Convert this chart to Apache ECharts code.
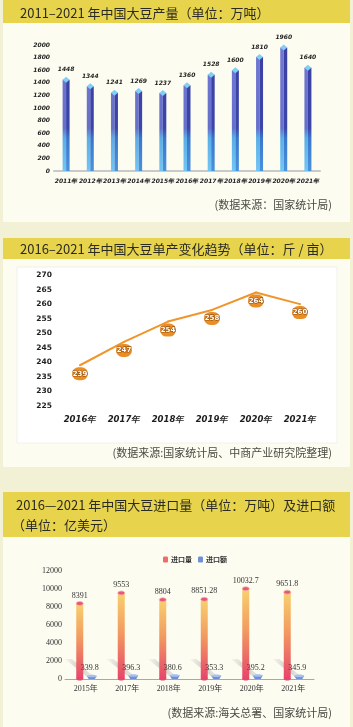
<!DOCTYPE html>
<html><head><meta charset="utf-8">
<script src="https://cdn.jsdelivr.net/npm/echarts@6/dist/echarts.min.js"></script>
<style>html,body{margin:0;padding:0;background:#f2f1d6}#c{width:353px;height:727px}</style>
</head><body><div id="c"></div>
<script>
// ---- data ----
const prodYears = ['2011年','2012年','2013年','2014年','2015年','2016年','2017年','2018年','2019年','2020年','2021年'];
const prodValues = [1448,1344,1241,1269,1237,1360,1528,1600,1810,1960,1640];
const yieldYears = ['2016年','2017年','2018年','2019年','2020年','2021年'];
const yieldValues = [239,247,254,258,264,260];
const importYears = ['2015年','2017年','2018年','2019年','2020年','2021年'];
const importVolume = [8391,9553,8804,8851.28,10032.7,9651.8];
const importAmount = [339.8,396.3,380.6,353.3,395.2,345.9];
const legendNames = ['进口量','进口额'];

const CJK = '"Noto Sans CJK SC", "Noto Sans", sans-serif';
const SERIF = '"Liberation Serif", "DejaVu Serif", "Noto Sans CJK SC", serif';
const YELLOW = '#e7d44c';
const PANEL = '#fcfcf1';
const plain = v => String(v);

function txt(x, y, text, font, fill, align) {
  return {type:'text', x:x, y:y, silent:true, z:10,
    style:{text:text, font:font, fill:fill||'#2b2b22', textAlign:align||'left', textVerticalAlign:'middle'}};
}
function rect(x, y, w, h, fill, stroke) {
  return {type:'rect', silent:true, z:-10, shape:{x:x,y:y,width:w,height:h},
    style:{fill:fill, stroke:stroke||null, lineWidth:stroke?1:0}};
}

// chart 1 prism bars
function renderProd(params, api) {
  const top = api.coord([api.value(0), api.value(1)]);
  const base = api.coord([api.value(0), 0]);
  const axTop = api.coord([0, 2000])[1];
  const w = 7, h = 3, cx = top[0], yt = top[1], yb = base[1];
  const gl = {type:'linear', global:true, x:0, y:axTop, x2:0, y2:yb, colorStops:[
    {offset:0,color:'#7178d2'},{offset:0.66,color:'#6670cc'},{offset:0.74,color:'#5aaee8'},{offset:1,color:'#72c6f4'}]};
  const gr = {type:'linear', global:true, x:0, y:axTop, x2:0, y2:yb, colorStops:[
    {offset:0,color:'#3b40a2'},{offset:0.66,color:'#3c46a8'},{offset:0.74,color:'#3a76cc'},{offset:1,color:'#4a92dc'}]};
  return {type:'group', children:[
    {type:'rect', shape:{x:cx-w/2, y:yt, width:w/2, height:yb-yt}, style:{fill:gl}},
    {type:'rect', shape:{x:cx, y:yt, width:w/2, height:yb-yt}, style:{fill:gr}},
    {type:'polygon', shape:{points:[[cx-w/2,yt],[cx,yt-h],[cx+w/2,yt],[cx,yt+h]]}, style:{fill:'#80cff5'}},
    {type:'text', style:{text:String(api.value(1)), x:cx, y:yt-7, textAlign:'center', textVerticalAlign:'bottom',
      font:'italic bold 6px "DejaVu Sans", sans-serif', fill:'#1e1e1e'}}
  ]};
}

// chart 3 cylinders
function renderVol(params, api) {
  const top = api.coord([api.value(0), api.value(1)]);
  const base = api.coord([api.value(0), 0]);
  const c = top[0];
  const w = 7, cx = c - 6, yt = top[1], yb = base[1];
  const g = {type:'linear', x:0, y:0, x2:0, y2:1, colorStops:[
    {offset:0,color:'#f8d06e'},{offset:0.45,color:'#f29c60'},{offset:1,color:'#e7456c'}]};
  const sh = {type:'linear', x:0, y:0, x2:1, y2:0, colorStops:[
    {offset:0,color:'rgba(160,160,160,0.05)'},{offset:0.5,color:'rgba(150,150,150,0.45)'},{offset:1,color:'rgba(160,160,160,0.1)'}]};
  return {type:'group', children:[
    {type:'polygon', shape:{points:[[c-21,yb-20],[c-14,yb-20],[c+10,yb-1],[c+3,yb-1]]}, style:{fill:sh}},
    {type:'rect', shape:{x:cx-w/2, y:yt, width:w, height:yb-yt}, style:{fill:g}},
    {type:'ellipse', shape:{cx:cx, cy:yb, rx:w/2, ry:1.5}, style:{fill:'#e7456c'}},
    {type:'ellipse', shape:{cx:cx, cy:yt, rx:w/2, ry:2}, style:{fill:'#e8567c', stroke:'#f8b8a0', lineWidth:0.8}},
    {type:'text', style:{text:String(api.value(1)), x:cx, y:yt-4, textAlign:'center', textVerticalAlign:'bottom',
      font:'8px ' + SERIF, fill:'#333'}}
  ]};
}
function renderAmt(params, api) {
  const top = api.coord([api.value(0), api.value(1)]);
  const base = api.coord([api.value(0), 0]);
  const cx = top[0] + 6, yt = top[1], yb = base[1];
  return {type:'group', children:[
    {type:'polygon', shape:{points:[[cx-5,yt],[cx+5,yt],[cx+3,yb],[cx-3,yb]]}, style:{fill:'#6f8fd6'}},
    {type:'ellipse', shape:{cx:cx, cy:yt, rx:5, ry:1.3}, style:{fill:'#a8c0ef'}},
    {type:'text', style:{text:String(api.value(1)), x:cx-2, y:yt-4, textAlign:'center', textVerticalAlign:'bottom',
      font:'8px ' + SERIF, fill:'#333'}}
  ]};
}

const chart = echarts.init(document.getElementById('c'));
chart.setOption({
  animation:false,
  backgroundColor:'#f2f1d6',
  graphic:[
    rect(3,0,347,23,YELLOW), rect(3,23,347,199,PANEL),
    rect(3,238,347,21,YELLOW), rect(3,259,347,208,PANEL),
    rect(17,267,320,176,'#ffffff','#f1f1e8'),
    rect(3,492,347,45,YELLOW), rect(3,537,347,190,PANEL),
    txt(20,13,'2011–2021 年中国大豆产量（单位：万吨）','13px '+CJK,'#2b2b22'),
    txt(20,249,'2016–2021 年中国大豆单产变化趋势（单位：斤 / 亩）','13px '+CJK,'#2b2b22'),
    txt(16,505,'2016—2021 年中国大豆进口量（单位：万吨）及进口额','13px '+CJK,'#2b2b22'),
    txt(12,525,'（单位：亿美元）','13px '+CJK,'#2b2b22'),
    txt(332,205,'(数据来源：国家统计局)','11px '+CJK,'#4a4a44','right'),
    txt(332,453,'(数据来源:国家统计局、中商产业研究院整理)','11px '+CJK,'#4a4a44','right'),
    txt(332,713,'(数据来源:海关总署、国家统计局)','11px '+CJK,'#4a4a44','right')
  ],
  legend:{data:legendNames, left:158, top:551, itemWidth:5, itemHeight:6, itemGap:6, icon:'roundRect',
    textStyle:{fontSize:7, fontWeight:'bold', color:'#333', fontFamily:CJK, padding:[0,0,0,-2]}},
  grid:[
    {left:54, top:45, width:266, height:126},
    {left:58, top:275, width:264, height:131},
    {left:65, top:571, width:249, height:108}
  ],
  xAxis:[
    {gridIndex:0, type:'category', data:prodYears, axisTick:{show:false},
      axisLine:{lineStyle:{color:'#c9c9c9', width:2}},
      axisLabel:{margin:7, fontSize:6, fontStyle:'italic', fontWeight:'bold', color:'#1e1e1e', fontFamily:'"DejaVu Sans", sans-serif', interval:0}},
    {gridIndex:1, type:'category', data:yieldYears, axisTick:{show:false}, axisLine:{show:false},
      axisLabel:{margin:9, fontSize:8.5, fontStyle:'italic', fontWeight:'bold', color:'#1e1e1e', fontFamily:'"DejaVu Sans", sans-serif', interval:0}},
    {gridIndex:2, type:'category', data:importYears, axisTick:{show:false},
      axisLine:{lineStyle:{color:'#a8a8a8', width:1}},
      axisLabel:{margin:6, fontSize:8, color:'#333', fontFamily:SERIF, interval:0}}
  ],
  yAxis:[
    {gridIndex:0, type:'value', min:0, max:2000, interval:200, splitLine:{show:false},
      axisLabel:{formatter:plain, margin:4, fontSize:6, fontStyle:'italic', fontWeight:'bold', color:'#1e1e1e', fontFamily:'"DejaVu Sans", sans-serif'}},
    {gridIndex:1, type:'value', min:225, max:270, interval:5, splitLine:{show:false},
      axisLabel:{formatter:plain, margin:6, fontSize:7.5, fontWeight:'bold', color:'#1e1e1e', fontFamily:'"DejaVu Sans", sans-serif'}},
    {gridIndex:2, type:'value', min:0, max:12000, interval:2000, splitLine:{show:false},
      axisLabel:{formatter:plain, margin:3, fontSize:8, color:'#333', fontFamily:SERIF}}
  ],
  series:[
    {type:'custom', xAxisIndex:0, yAxisIndex:0, renderItem:renderProd,
      data:prodValues.map((v,i)=>[i,v]), encode:{x:0,y:1}},
    {type:'line', xAxisIndex:1, yAxisIndex:1, data:yieldValues, symbol:'circle', symbolSize:2,
      itemStyle:{color:'#f0952c'}, lineStyle:{color:'#f0952c', width:2},
      label:{show:true, position:'bottom', distance:1, color:'#fff', fontSize:7, fontWeight:'bold',
        fontFamily:'"DejaVu Sans", sans-serif', backgroundColor:'#e98e26', borderRadius:7,
        width:16, height:13, lineHeight:13, align:'center', textBorderColor:'#9a5510', textBorderWidth:1.2}},
    {type:'custom', name:legendNames[0], xAxisIndex:2, yAxisIndex:2, renderItem:renderVol,
      itemStyle:{color:'#ee6d6a'}, data:importVolume.map((v,i)=>[i,v]), encode:{x:0,y:1}},
    {type:'custom', name:legendNames[1], xAxisIndex:2, yAxisIndex:2, renderItem:renderAmt,
      itemStyle:{color:'#6f8fd6'}, data:importAmount.map((v,i)=>[i,v]), encode:{x:0,y:1}}
  ]
});
</script></body></html>
